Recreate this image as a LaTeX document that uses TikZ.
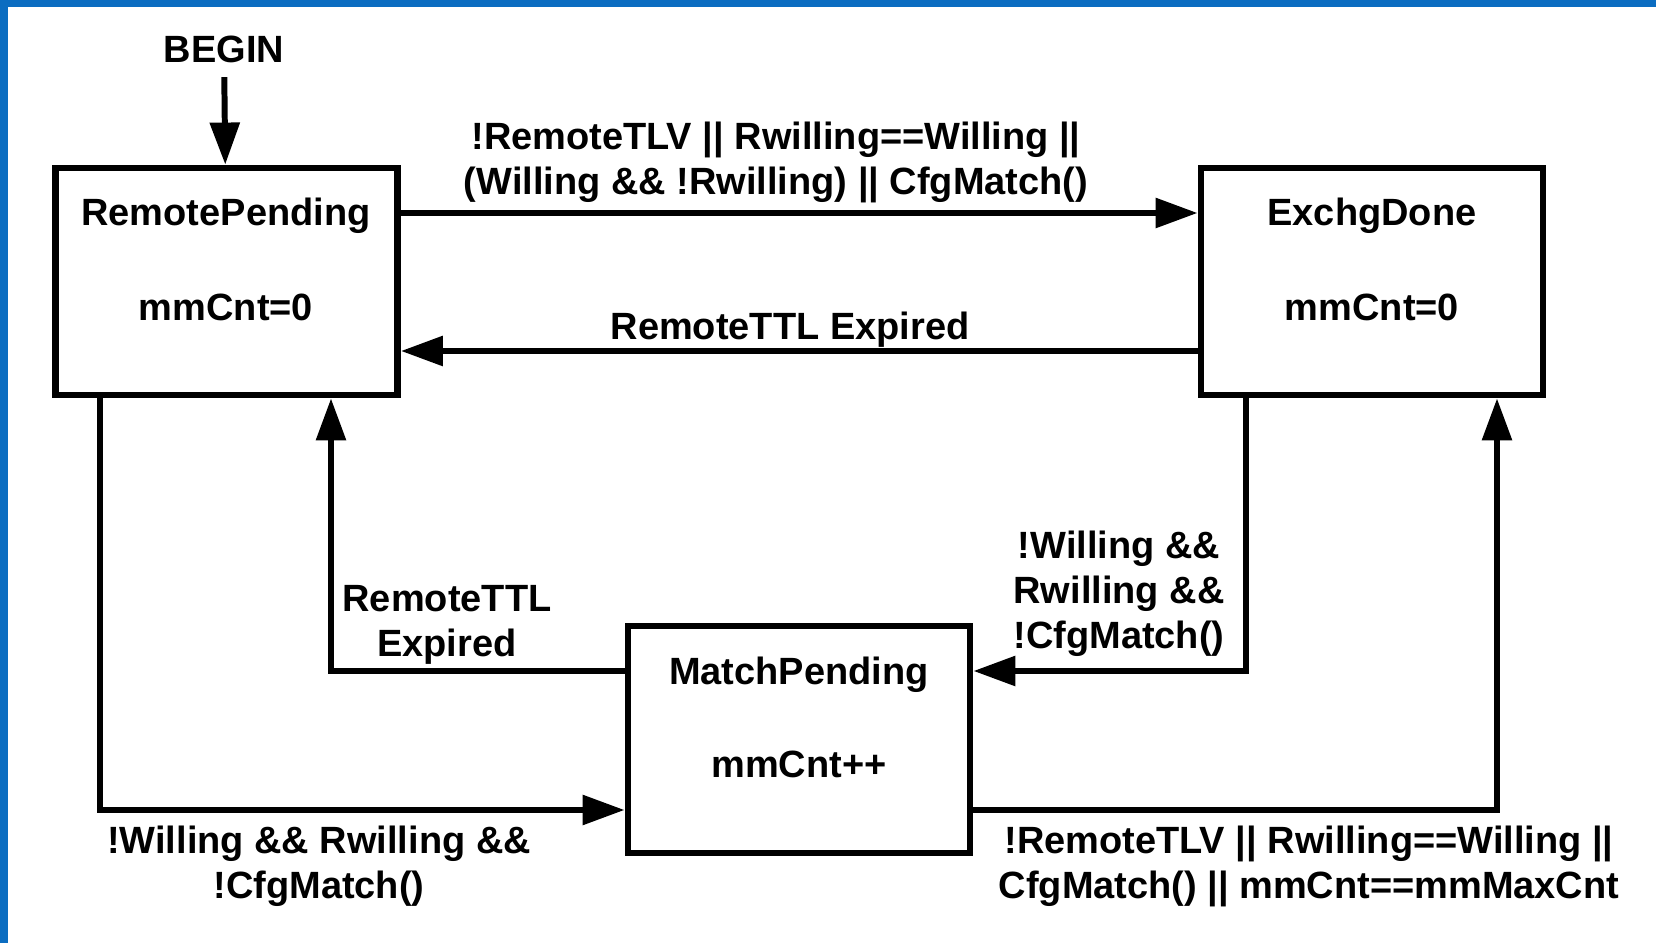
\documentclass[tikz,border=0pt]{standalone}
\usepackage{fontspec}
\setmainfont{Liberation Sans}
\usepackage{xcolor}
\usepackage{tikz}
\usetikzlibrary{positioning, arrows.meta, calc}

\definecolor{frameblue}{HTML}{0B6DC1}
\newcommand{\lblfont}{\fontsize{10.8pt}{12.8pt}\selectfont\bfseries}

\begin{document}
\begin{tikzpicture}[
        x=0.01cm, y=-0.01cm,
        state/.style={draw, line width=1.9pt, minimum width=3.42cm, minimum height=2.27cm},
        lbl/.style={font=\lblfont, align=center, inner sep=0pt},
        arr/.style={line width=1.7pt, -{Triangle[length=4.2mm, width=2.9mm]}}
      ]
      \useasboundingbox (0,0) rectangle (1656,943);
      \fill[white] (0,0) rectangle (1656,943);

      % frame
      \fill[frameblue] (0,0) rectangle (1656,7);
      \fill[frameblue] (0,0) rectangle (8,943);

      % states
      \node[state] (rp) at (226.5,281.5) {};
      \node[state] (ed) at (1372,281.5) {};
      \node[state] (mp) at (799,739.5) {};

      \node[lbl] (rpname) at (226,216) {RemotePending};
      \node[lbl] (rpcnt)  at (226,307) {mmCnt=0};
      \node[lbl] (edname) at (1372,216) {ExchgDone};
      \node[lbl] (edcnt)  at (1372,307) {mmCnt=0};
      \node[lbl] (mpname) at (799,675) {MatchPending};
      \node[lbl] (mpcnt)  at (799,764) {mmCnt++};

      \node[lbl, inner sep=4pt] (begin) at (224,49) {BEGIN};

      % lanes
      \coordinate (yfwd)  at (0,213);
      \coordinate (yback) at (0,351);
      \coordinate (c1) at (100,810);
      \coordinate (c2) at (331,671);
      \coordinate (c3) at (1246,671);
      \coordinate (c4) at (1497,810);

      % transitions
      \draw[arr] (begin) -- (rp);
      \draw[arr] (rp.east |- yfwd) -- (ed.west |- yfwd);
      \draw[arr] (ed.west |- yback) -- (rp.east |- yback);
      \draw[arr] (rp.south -| c1) |- (mp.west |- c1);
      \draw[arr] (mp.west |- c2) -| (rp.south -| c2);
      \draw[arr] (ed.south -| c3) |- (mp.east |- c3);
      \draw[arr] (mp.east |- c4) -| (ed.south -| c4);

      % conditions
      \node[lbl] (fwdlbl) at (776,162) {!RemoteTLV || Rwilling==Willing ||\\(Willing \&\& !Rwilling) || CfgMatch()};
      \node[lbl] (backlbl) at (790,330) {RemoteTTL Expired};
      \node[lbl] (rpmplbl) at (319,866) {!Willing \&\& Rwilling \&\&\\!CfgMatch()};
      \node[lbl] (mprplbl) at (447,625) {RemoteTTL\\Expired};
      \node[lbl] (edmplbl) at (1119,594) {!Willing \&\&\\Rwilling \&\&\\!CfgMatch()};
      \node[lbl] (mpedlbl) at (1309,866) {!RemoteTLV || Rwilling==Willing ||\\CfgMatch() || mmCnt==mmMaxCnt};
\end{tikzpicture}
\end{document}
